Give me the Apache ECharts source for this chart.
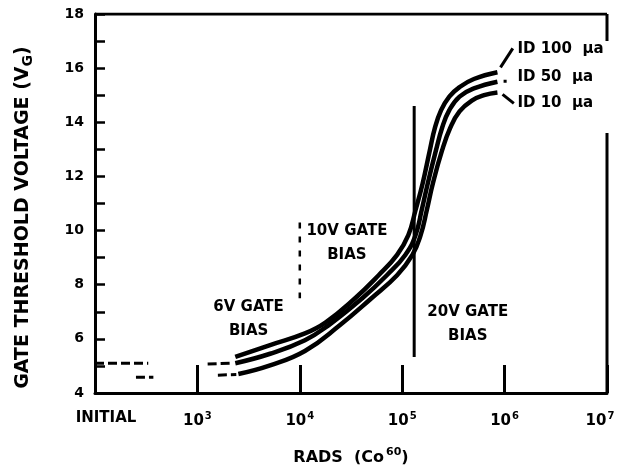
<!DOCTYPE html>
<html>
<head>
<meta charset="utf-8">
<script src="https://cdn.jsdelivr.net/npm/echarts@6/dist/echarts.min.js"></script>
<style>
  html, body { margin: 0; padding: 0; background: #fff; }
  #chart { width: 620px; height: 473px; }
</style>
</head>
<body>
<div id="chart"></div>
<script>
// x values are log10(dose in rads); 2 stands for the pre-irradiation ("INITIAL") reading
const xTicks = [2, 3, 4, 5, 6, 7];
const yTicks = [4, 6, 8, 10, 12, 14, 16, 18];

// Gate threshold voltage (V) vs. log10 dose, one curve per drain current
const curveId100 = [
  [3.37, 5.33], [3.71, 5.77], [4.05, 6.2], [4.25, 6.6], [4.54, 7.5], [4.77, 8.35],
  [4.95, 9.1], [5.06, 9.83], [5.13, 10.75], [5.2, 11.75], [5.27, 12.97], [5.32, 13.8],
  [5.38, 14.45], [5.46, 14.95], [5.56, 15.3], [5.7, 15.6], [5.93, 15.85]
];
const curveId50 = [
  [3.37, 5.1], [3.71, 5.45], [4.05, 5.95], [4.28, 6.5], [4.61, 7.5], [4.85, 8.35],
  [5.03, 9.1], [5.13, 9.83], [5.19, 10.75], [5.25, 11.75], [5.33, 12.97], [5.39, 13.8],
  [5.46, 14.45], [5.56, 14.95], [5.7, 15.25], [5.93, 15.5]
];
const curveId10 = [
  [3.4, 4.7], [3.71, 5.02], [4.05, 5.55], [4.39, 6.5], [4.7, 7.5], [4.95, 8.35],
  [5.1, 9.1], [5.18, 9.83], [5.24, 10.75], [5.3, 11.75], [5.39, 12.97], [5.47, 13.8],
  [5.56, 14.4], [5.68, 14.8], [5.8, 15.0], [5.93, 15.1]
];

// Dashed pre-irradiation / early-dose readings
const initialDashes = [
  [[2.0, 5.1], [2.52, 5.1]],
  [[2.4, 4.58], [2.57, 4.58]],
  [[3.1, 5.07], [3.33, 5.1]],
  [[3.2, 4.66], [3.38, 4.68]]
];

// Gate-bias region boundaries
const bias10Boundary = [[4, 10.3], [4, 7.5]];
const bias20Boundary = [[5.117, 14.6], [5.117, 5.33]];

// Leaders from curve ends to their current labels
const leaders = [
  [[5.96, 16.03], [6.08, 16.73]],
  [[5.99, 15.52], [6.02, 15.52]],
  [[5.98, 15.03], [6.09, 14.7]]
];

const curveNames = ['ID 100  \u03bca', 'ID 50  \u03bca', 'ID 10  \u03bca'];
const biasNames = ['6V GATE\nBIAS', '10V GATE\nBIAS', '20V GATE\nBIAS'];

// Annotation anchors (data coordinates)
const curveLabelAt = [[6.12, 16.69], [6.12, 15.66], [6.12, 14.7]];
const biasLabelAt = [[3.5, 6.73], [4.46, 9.55], [5.64, 6.56]];

const INK = '#000';
const FONT = '"DejaVu Sans", "Liberation Sans", sans-serif';

function lineSeries(data, width, type) {
  return {
    type: 'line', data, symbol: 'none', silent: true, z: 3,
    lineStyle: { color: INK, width, type: type || 'solid', cap: 'butt' }
  };
}

const series = [];

// Frame: top border and right border (broken where the labels sit)
series.push(lineSeries([[2, 18], [7, 18]], 3));
series.push(lineSeries([[7, 18], [7, 17.0]], 3));
series.push(lineSeries([[7, 13.6], [7, 4]], 3));

[curveId100, curveId50, curveId10].forEach(c => {
  const s = lineSeries(c, 4.5);
  s.smooth = 0.45;
  s.z = 4;
  series.push(s);
});

initialDashes.forEach(d => series.push(lineSeries(d, 3, [9, 4])));
series.push(lineSeries(bias10Boundary, 2.5, [6, 8]));
series.push(lineSeries(bias20Boundary, 3));
leaders.forEach(d => series.push(lineSeries(d, 3)));

const textStyle = { color: INK, fontFamily: FONT, fontWeight: 'bold' };

function wrapLines(txt) {
  return txt.split('\n').map(l => '{t|' + l + '}').join('\n');
}

// Text annotations carried by invisible, fully opaque scatter points
const annotationItem = { color: 'rgba(0,0,0,0)', opacity: 1 };

series.push({
  type: 'scatter', silent: true, symbolSize: 1, z: 5,
  itemStyle: annotationItem,
  data: curveLabelAt.map((p, i) => ({ value: p, name: curveNames[i] })),
  label: {
    show: true, position: 'right', distance: 0, color: INK, opacity: 1,
    formatter: p => wrapLines(p.name),
    rich: { t: { ...textStyle, fontSize: 15 } }
  }
});
series.push({
  type: 'scatter', silent: true, symbolSize: 1, z: 5,
  itemStyle: annotationItem,
  data: biasLabelAt.map((p, i) => ({ value: p, name: biasNames[i] })),
  label: {
    show: true, position: 'inside', align: 'center', color: INK, opacity: 1,
    formatter: p => wrapLines(p.name),
    rich: { t: { ...textStyle, fontSize: 15, lineHeight: 24, align: 'center' } }
  }
});

const chart = echarts.init(document.getElementById('chart'), null, { renderer: 'canvas' });
chart.setOption({
  animation: false,
  backgroundColor: '#fff',
  grid: { left: 95, right: 13, top: 14, bottom: 80 },
  xAxis: {
    type: 'value', min: 2, max: 7, interval: 1,
    name: 'RADS  (Co{s|60})', nameLocation: 'middle', nameGap: 54,
    nameTextStyle: {
      ...textStyle, fontSize: 16,
      rich: { s: { ...textStyle, fontSize: 11, padding: [0, 0, 10, 2] } }
    },
    axisLine: { lineStyle: { color: INK, width: 3 } },
    axisTick: { inside: true, length: 28, lineStyle: { color: INK, width: 3 } },
    splitLine: { show: false },
    axisLabel: {
      margin: 18, color: INK,
      formatter: v => {
        if (v === xTicks[0]) return '{init|INITIAL}';
        return '{b|10}{' + (v === 7 ? 'supEnd' : 'sup') + '|' + v + '}';
      },
      rich: {
        init: { ...textStyle, fontSize: 15, padding: [0, 0, 0, 22] },
        b: { ...textStyle, fontSize: 15 },
        sup: { ...textStyle, fontSize: 10, padding: [0, 0, 10, 1] },
        supEnd: { ...textStyle, fontSize: 10, padding: [0, 14, 10, 1] }
      }
    }
  },
  yAxis: {
    type: 'value', min: 4, max: 18, interval: 1,
    name: '{a|GATE THRESHOLD VOLTAGE (V}{s|G}{a|)}',
    nameLocation: 'middle', nameGap: 60, nameRotate: 90,
    nameTextStyle: {
      padding: [0, 28, 0, 0],
      rich: {
        a: { ...textStyle, fontSize: 19 },
        s: { ...textStyle, fontSize: 14, padding: [10, 0, 0, 0] }
      }
    },
    axisLine: { lineStyle: { color: INK, width: 3 } },
    axisTick: { inside: true, length: 10, lineStyle: { color: INK, width: 2.5 } },
    splitLine: { show: false },
    axisLabel: {
      margin: 11, ...textStyle, fontSize: 14,
      formatter: v => (yTicks.indexOf(v) >= 0 ? String(v) : '')
    }
  },
  series
});
</script>
</body>
</html>
